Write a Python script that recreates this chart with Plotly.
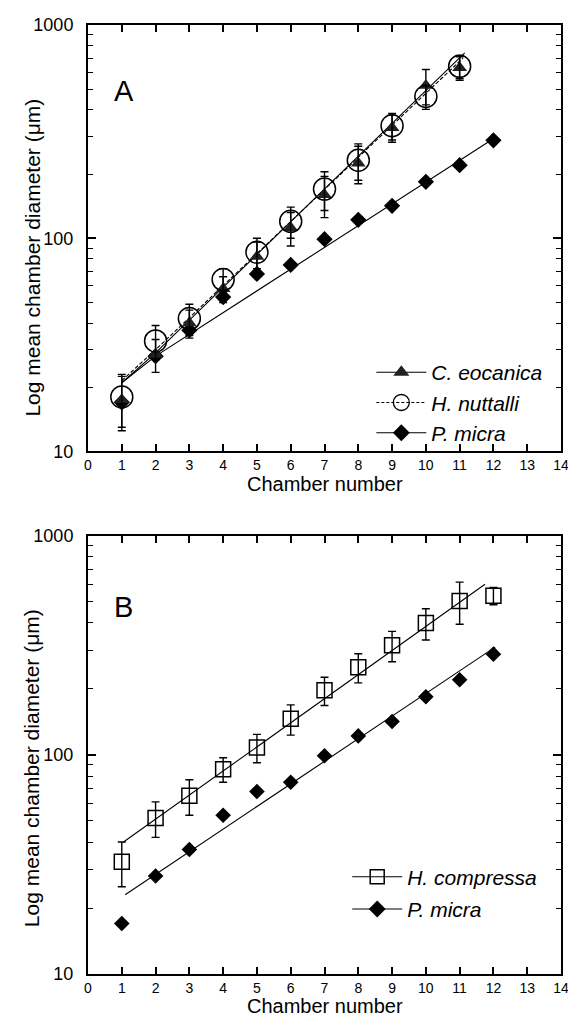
import plotly.graph_objects as go

# ---------------- data ----------------
chambers_11 = [1, 2, 3, 4, 5, 6, 7, 8, 9, 10, 11]
chambers_12 = [1, 2, 3, 4, 5, 6, 7, 8, 9, 10, 11, 12]

c_eocanica = [17.5, 28.5, 40, 58, 82, 112, 160, 225, 330, 520, 630]
c_eocanica_err = [5, 5, 6, 8, 14, 20, 35, 45, 48, 98, 80]

h_nuttalli = [18, 33, 42, 64, 86, 120, 170, 232, 337, 462, 640]
h_nuttalli_err = [5, 6, 7, 8, 14, 20, 35, 45, 48, 60, 80]

p_micra = [17, 28, 37, 53, 68, 75, 99, 122, 142, 184, 220, 288]

h_compressa = [32.5, 51.5, 65, 86, 108, 146, 197, 251, 316, 399, 504, 532]
h_compressa_err = [7.5, 9.5, 12, 11, 16, 23, 29, 38, 50, 65, 110, 48]

# fitted lines
fitA_eoc_x = [1, 2, 11.15]
fitA_eoc_y = [21, 29, 740]
fitA_nut_x = [1, 2, 11.1]
fitA_nut_y = [21.5, 30, 700]
fitA_mic_x = [1, 2, 12.1]
fitA_mic_y = [21, 28, 300]
fitB_comp_x = [1.05, 11.75]
fitB_comp_y = [40, 600]
fitB_mic_x = [1.1, 12.05]
fitB_mic_y = [23, 310]

x_ticks = list(range(0, 15))
y_major = [10, 100, 1000]
y_minor = [20, 30, 40, 50, 60, 70, 80, 90, 200, 300, 400, 500, 600, 700, 800, 900]

FONT = "Liberation Sans, Arial, sans-serif"
Y_TITLE = "Log mean chamber diameter (μm)"
X_TITLE = "Chamber number"

fig = go.Figure()

err_style = dict(type="data", color="black", thickness=1.4, width=4)

def line_tr(x, y, xa, ya, dash="solid"):
    return go.Scatter(x=x, y=y, mode="lines", xaxis=xa, yaxis=ya,
                      line=dict(color="black", width=1.1, dash=dash),
                      showlegend=False, hoverinfo="skip")

# ---- Panel A ----
fig.add_trace(line_tr(fitA_eoc_x, fitA_eoc_y, "x", "y"))
fig.add_trace(line_tr(fitA_nut_x, fitA_nut_y, "x", "y", dash="4px,2px"))
fig.add_trace(line_tr(fitA_mic_x, fitA_mic_y, "x", "y"))

fig.add_trace(go.Scatter(x=chambers_12, y=p_micra, mode="markers", xaxis="x", yaxis="y",
                         marker=dict(symbol="diamond", size=12.5, color="black"),
                         showlegend=False))
fig.add_trace(go.Scatter(x=chambers_11, y=c_eocanica, mode="markers", xaxis="x", yaxis="y",
                         marker=dict(symbol="triangle-up", size=13, color="#222"),
                         error_y=dict(array=c_eocanica_err, **err_style),
                         showlegend=False))
fig.add_trace(go.Scatter(x=chambers_11, y=h_nuttalli, mode="markers", xaxis="x", yaxis="y",
                         marker=dict(symbol="circle-open", size=22, color="black",
                                     line=dict(width=1.5)),
                         error_y=dict(array=h_nuttalli_err, **err_style),
                         showlegend=False))

# legend entries A
fig.add_trace(go.Scatter(x=[None], y=[None], mode="lines+markers", name="<i>C. eocanica</i>",
                         xaxis="x", yaxis="y", legend="legend", legendgroup="a1",
                         line=dict(color="black", width=1.1),
                         marker=dict(symbol="triangle-up", size=14, color="#222")))
fig.add_trace(go.Scatter(x=[None], y=[None], mode="lines+markers", name="<i>H. nuttalli</i>",
                         xaxis="x", yaxis="y", legend="legend", legendgroup="a2",
                         line=dict(color="black", width=1.1, dash="3px,2px"),
                         marker=dict(symbol="circle-open", size=16, color="black",
                                     line=dict(width=1.3))))
fig.add_trace(go.Scatter(x=[None], y=[None], mode="lines+markers", name="<i>P. micra</i>",
                         xaxis="x", yaxis="y", legend="legend", legendgroup="a3",
                         line=dict(color="black", width=1.1),
                         marker=dict(symbol="diamond", size=13, color="black")))

# ---- Panel B ----
fig.add_trace(line_tr(fitB_comp_x, fitB_comp_y, "x2", "y2"))
fig.add_trace(line_tr(fitB_mic_x, fitB_mic_y, "x2", "y2"))
fig.add_trace(go.Scatter(x=chambers_12, y=h_compressa, mode="markers", xaxis="x2", yaxis="y2",
                         marker=dict(symbol="square-open", size=15, color="black",
                                     line=dict(width=1.5)),
                         error_y=dict(array=h_compressa_err, **err_style),
                         showlegend=False))
fig.add_trace(go.Scatter(x=chambers_12, y=p_micra, mode="markers", xaxis="x2", yaxis="y2",
                         marker=dict(symbol="diamond", size=12, color="black"),
                         showlegend=False))

fig.add_trace(go.Scatter(x=[None], y=[None], mode="lines+markers", name="<i>H. compressa</i>",
                         xaxis="x2", yaxis="y2", legend="legend2", legendgroup="b1",
                         line=dict(color="black", width=1.1),
                         marker=dict(symbol="square-open", size=14, color="black",
                                     line=dict(width=1.5))))
fig.add_trace(go.Scatter(x=[None], y=[None], mode="lines+markers", name="<i>P. micra</i>",
                         xaxis="x2", yaxis="y2", legend="legend2", legendgroup="b2",
                         line=dict(color="black", width=1.1),
                         marker=dict(symbol="diamond", size=13, color="black")))

xaxis_common = dict(range=[0, 14], tickmode="array", tickvals=x_ticks,
                    ticks="inside", ticklen=7, tickwidth=1.5, tickcolor="black",
                    showline=True, linecolor="black", linewidth=2, mirror="ticks",
                    showgrid=False, zeroline=False,
                    tickfont=dict(family=FONT, size=14, color="black"))
yaxis_common = dict(type="log", range=[1, 3], tickmode="array", tickvals=y_major,
                    ticktext=["10", "100", "1000"],
                    ticks="inside", ticklen=8, tickwidth=1.5, tickcolor="black",
                    showline=True, linecolor="black", linewidth=2, mirror="ticks",
                    showgrid=False, zeroline=False, ticklabelstandoff=9,
                    minor=dict(tickmode="array", tickvals=y_minor, ticks="inside",
                               ticklen=5, tickwidth=1.3, tickcolor="black", showgrid=False),
                    tickfont=dict(family=FONT, size=18, color="black"))

legend_common = dict(bgcolor="rgba(0,0,0,0)", borderwidth=0,
                     font=dict(family=FONT, size=21, color="black"),
                     xanchor="left", yanchor="top", itemwidth=50)

title_font = dict(family=FONT, size=21, color="black")
xtitle_font = dict(family=FONT, size=20, color="black")

fig.update_layout(
    width=568, height=1011,
    margin=dict(l=80, r=12, t=7, b=45),
    paper_bgcolor="white", plot_bgcolor="white",
    xaxis=dict(domain=[0, 1], anchor="y", **xaxis_common),
    yaxis=dict(domain=[0.5506, 1], anchor="x", **yaxis_common),
    xaxis2=dict(domain=[0, 1], anchor="y2", **xaxis_common),
    yaxis2=dict(domain=[0, 0.4619], anchor="x2", **yaxis_common),
    legend=dict(x=0.599, y=0.6554, tracegroupgap=0, **legend_common),
    legend2=dict(x=0.548, y=0.1237, tracegroupgap=2, **legend_common),
    annotations=[
        dict(text="A", xref="x domain", yref="y domain", x=0.05, y=0.845,
             xanchor="left", yanchor="middle", showarrow=False,
             font=dict(family=FONT, size=29, color="black")),
        dict(text="B", xref="x2 domain", yref="y2 domain", x=0.05, y=0.837,
             xanchor="left", yanchor="middle", showarrow=False,
             font=dict(family=FONT, size=29, color="black")),
        dict(text=Y_TITLE, xref="paper", yref="y domain", x=-0.118, y=0.455,
             xanchor="center", yanchor="middle", textangle=-90, showarrow=False,
             font=title_font),
        dict(text=Y_TITLE, xref="paper", yref="y2 domain", x=-0.118, y=0.47,
             xanchor="center", yanchor="middle", textangle=-90, showarrow=False,
             font=title_font),
        dict(text=X_TITLE, xref="x domain", yref="y domain", x=0.5, y=0,
             xanchor="center", yanchor="middle", yshift=-33, showarrow=False,
             font=xtitle_font),
        dict(text=X_TITLE, xref="x2 domain", yref="y2 domain", x=0.5, y=0,
             xanchor="center", yanchor="middle", yshift=-32, showarrow=False,
             font=xtitle_font),
    ],
)

fig.write_html("out.html")
